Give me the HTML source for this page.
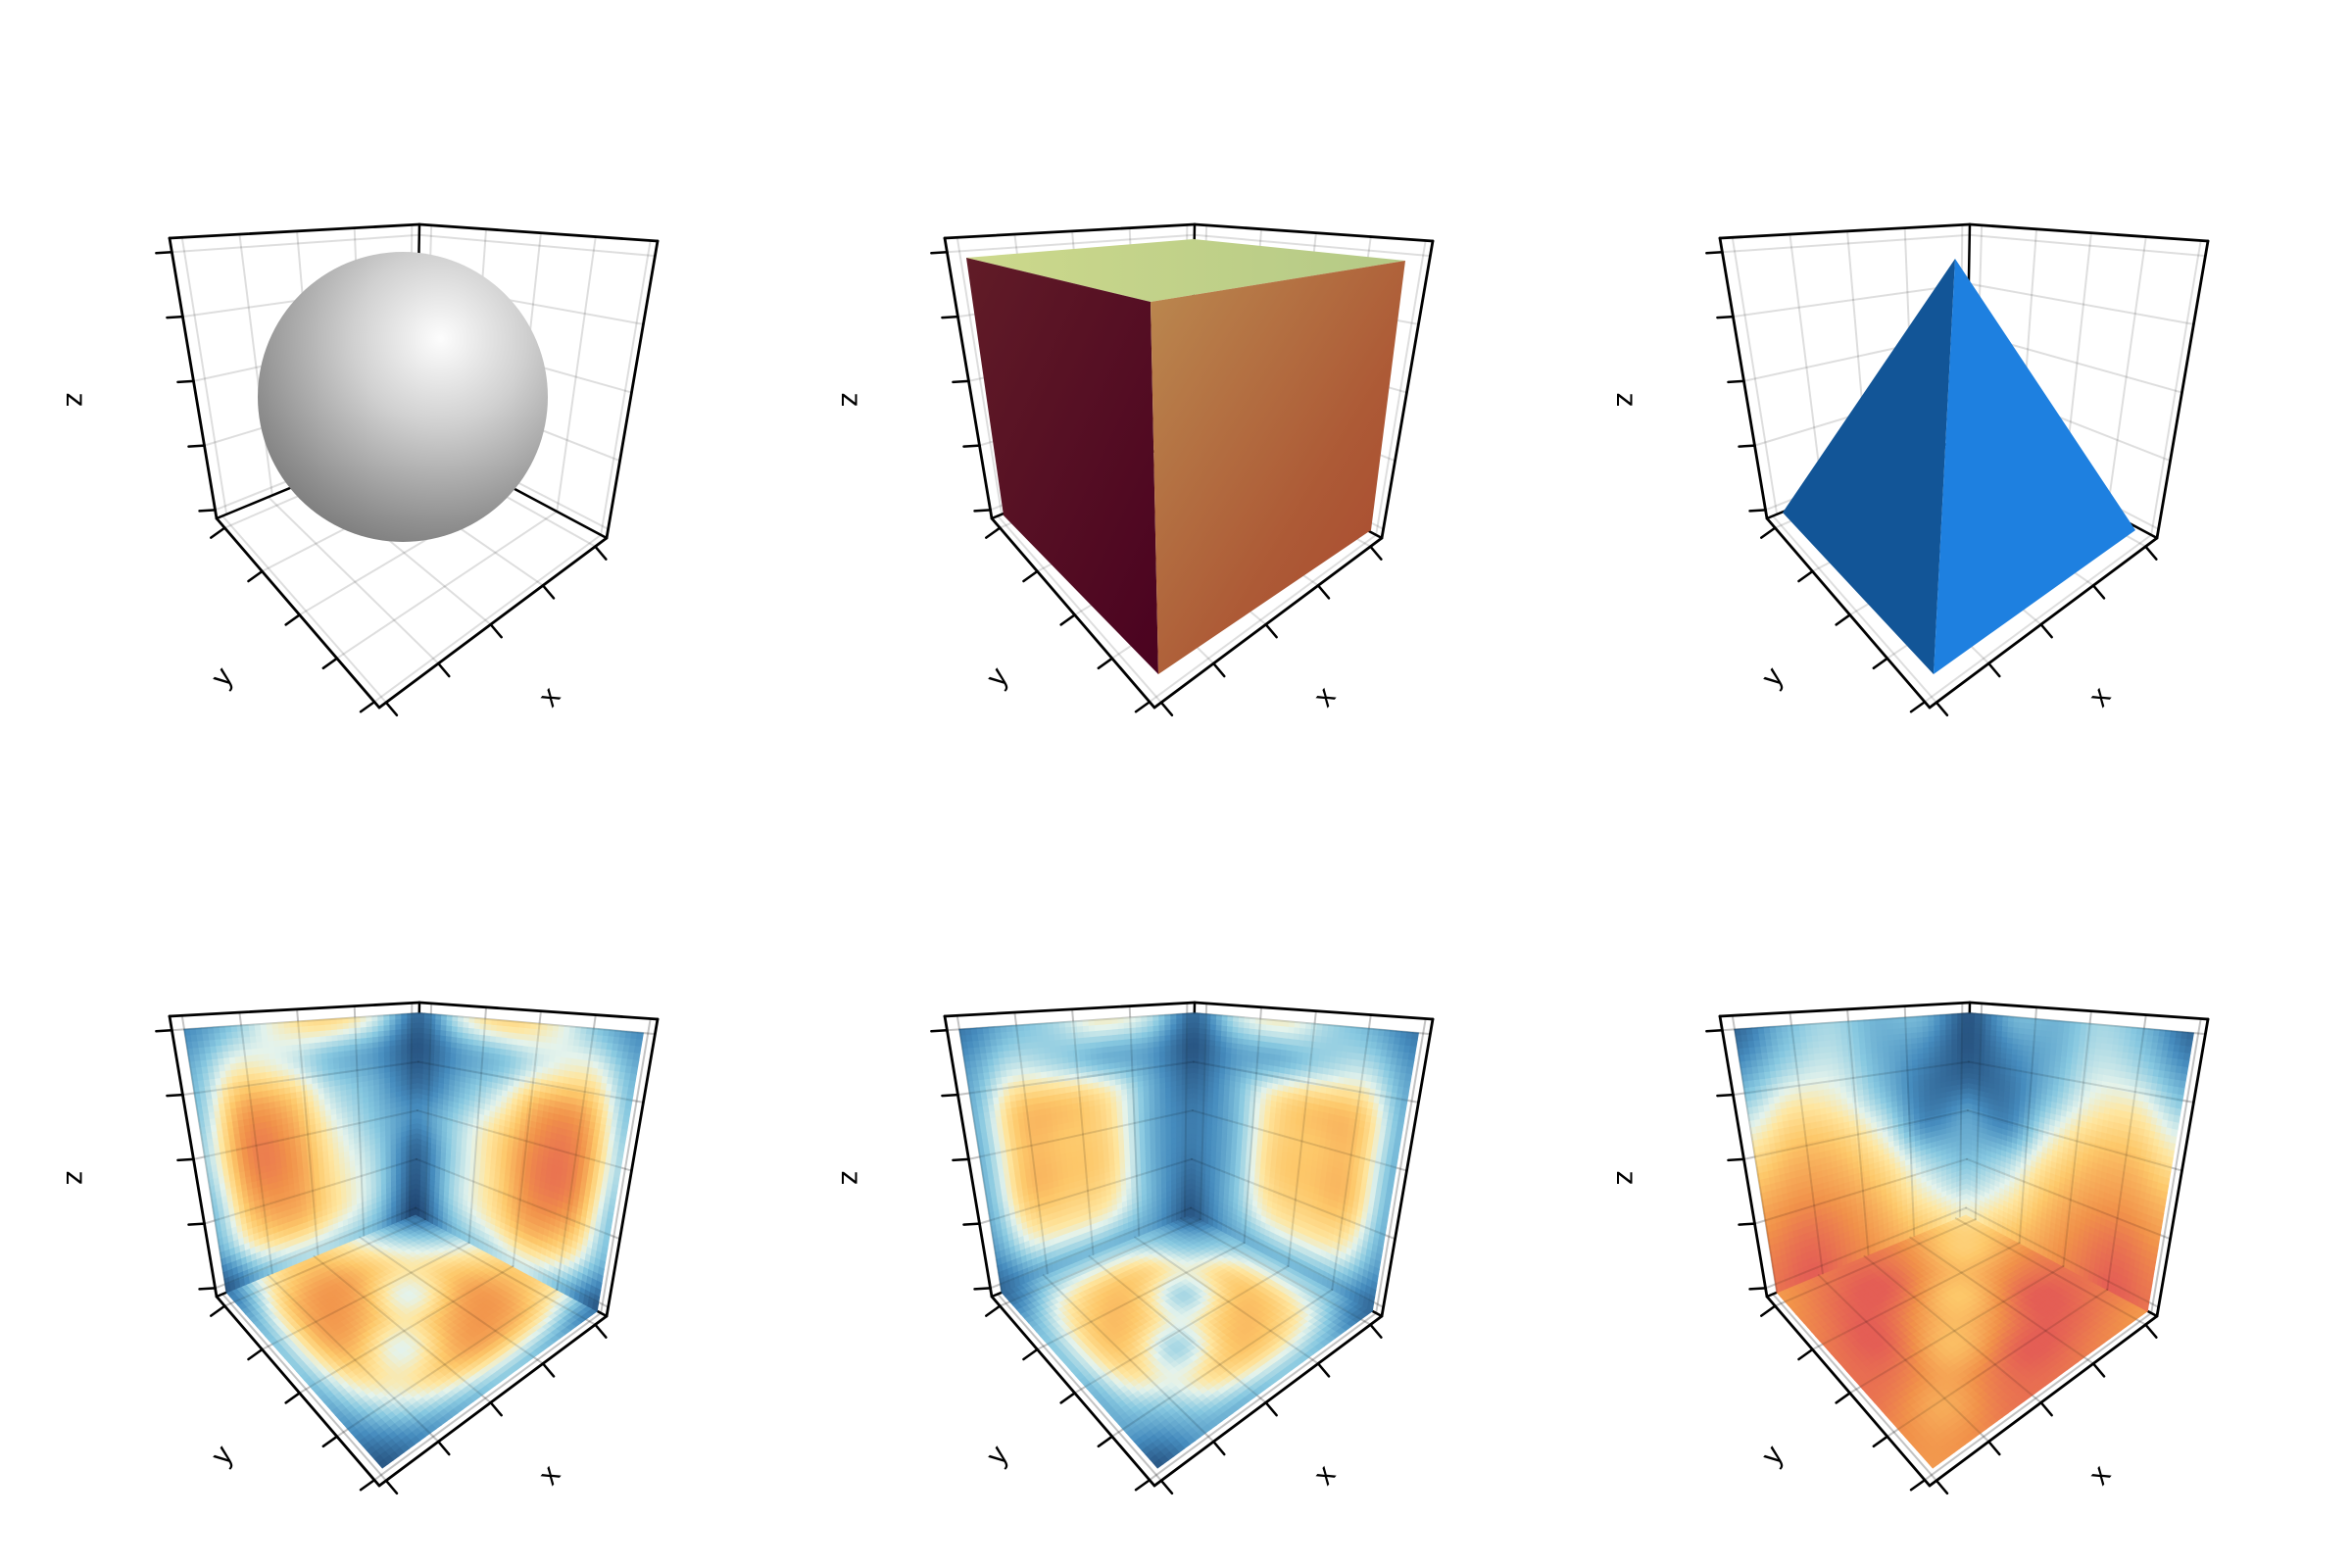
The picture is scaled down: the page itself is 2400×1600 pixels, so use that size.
<!DOCTYPE html>
<html><head><meta charset="utf-8">
<style>
html,body{margin:0;padding:0;background:#fff;}
svg{display:block;}
text{font-family:"Liberation Sans",sans-serif;font-size:30px;fill:#000;}
</style></head>
<body>
<svg id="fig" width="2400" height="1600" viewBox="0 0 2400 1600" xmlns="http://www.w3.org/2000/svg">
<defs>
<radialGradient id="sphereGrad" cx="0.62" cy="0.3" r="0.85" fx="0.63" fy="0.3">
<stop offset="0" stop-color="#fdfdfd"/><stop offset="0.35" stop-color="#d0d0d0"/><stop offset="0.75" stop-color="#909090"/><stop offset="1" stop-color="#6c6c6c"/>
</radialGradient>
<linearGradient id="cubeLeft" x1="0" y1="0" x2="1" y2="1"><stop offset="0" stop-color="#611c27"/><stop offset="1" stop-color="#4a0220"/></linearGradient>
<linearGradient id="cubeRight" x1="0" y1="0" x2="1" y2="1"><stop offset="0" stop-color="#bb8a50"/><stop offset="0.6" stop-color="#ad5a36"/><stop offset="1" stop-color="#a8452d"/></linearGradient>
<linearGradient id="cubeTop" x1="0" y1="0" x2="1" y2="0"><stop offset="0" stop-color="#cdd98c"/><stop offset="1" stop-color="#b4c986"/></linearGradient>
</defs>
</svg>
<script>
// ---- data: heatmap value grids (rows = top->bottom / back->front, cols) ----
const gridTicks = [0.05, 0.28, 0.51, 0.74, 0.97];
const p4Left = [[0.2,0.35,0.55,0.65,0.5,0.1],[0.3,0.55,0.5,0.35,0.25,0.05],[0.35,0.8,0.75,0.45,0.3,0.1],[0.4,0.88,0.85,0.55,0.35,0.2],[0.35,0.82,0.85,0.6,0.4,0.1],[0.3,0.65,0.75,0.6,0.4,0.05],[0.05,0.3,0.4,0.4,0.3,0.0]];
const p4Right = [[0.1,0.5,0.65,0.55,0.35,0.2],[0.05,0.25,0.35,0.5,0.55,0.3],[0.1,0.3,0.5,0.8,0.8,0.35],[0.2,0.4,0.65,0.9,0.88,0.4],[0.1,0.4,0.65,0.9,0.85,0.35],[0.05,0.4,0.6,0.78,0.65,0.3],[0.0,0.3,0.4,0.45,0.3,0.05]];
const p4Floor = [[0.1,0.35,0.6,0.7,0.55,0.15],[0.35,0.5,0.7,0.85,0.75,0.3],[0.6,0.7,0.5,0.75,0.8,0.35],[0.7,0.85,0.75,0.5,0.65,0.3],[0.55,0.75,0.8,0.65,0.45,0.2],[0.15,0.3,0.35,0.3,0.2,0.05]];
const p5Left = [[0.15,0.3,0.4,0.55,0.45,0.1],[0.25,0.45,0.4,0.3,0.25,0.05],[0.3,0.7,0.72,0.6,0.3,0.1],[0.3,0.72,0.72,0.65,0.3,0.15],[0.3,0.72,0.72,0.65,0.3,0.15],[0.25,0.55,0.6,0.55,0.3,0.1],[0.1,0.25,0.3,0.3,0.25,0.05]];
const p5Right = [[0.1,0.45,0.55,0.4,0.3,0.15],[0.05,0.25,0.3,0.4,0.45,0.25],[0.1,0.3,0.6,0.72,0.7,0.3],[0.15,0.3,0.65,0.72,0.72,0.3],[0.15,0.3,0.65,0.72,0.72,0.3],[0.1,0.3,0.55,0.6,0.55,0.25],[0.05,0.25,0.3,0.3,0.25,0.1]];
const p5Floor = [[0.05,0.3,0.35,0.35,0.3,0.1],[0.3,0.4,0.65,0.72,0.6,0.3],[0.35,0.65,0.4,0.68,0.72,0.35],[0.35,0.72,0.68,0.4,0.62,0.3],[0.3,0.6,0.72,0.62,0.38,0.25],[0.1,0.3,0.35,0.3,0.25,0.05]];
const p6Left = [[0.1,0.3,0.4,0.3,0.3,0.05],[0.25,0.4,0.45,0.3,0.2,0.05],[0.45,0.6,0.55,0.35,0.15,0.1],[0.65,0.75,0.7,0.5,0.2,0.25],[0.8,0.85,0.8,0.65,0.4,0.3],[0.9,0.95,0.88,0.75,0.55,0.4],[0.95,1.0,0.92,0.82,0.7,0.55]];
const p6Right = [[0.05,0.3,0.3,0.4,0.3,0.1],[0.05,0.2,0.3,0.45,0.4,0.25],[0.1,0.15,0.35,0.55,0.6,0.45],[0.25,0.2,0.5,0.7,0.75,0.65],[0.3,0.4,0.65,0.8,0.85,0.8],[0.4,0.55,0.75,0.88,0.95,0.9],[0.55,0.7,0.82,0.92,1.0,0.95]];
const p6Floor = [[0.6,0.75,0.9,0.95,0.92,0.85],[0.75,0.7,0.85,1.0,0.98,0.9],[0.9,0.85,0.72,0.85,1.0,0.95],[0.95,1.0,0.85,0.75,0.9,0.95],[0.92,0.98,1.0,0.9,0.8,0.88],[0.85,0.9,0.95,0.95,0.88,0.85]];

const NS='http://www.w3.org/2000/svg';
const svg=document.getElementById('fig');
const box={LT:[173,243],BT:[428,229],RT:[671,246],LB:[221,529],RB:[619,549],FB:[387,722],BB:[424,445]};
const colX=[0,791,1582], rowY=[0,794];
const cmapPos=[0,0.2,0.35,0.5,0.6,0.72,0.87,1];
const cmapCol=[[30,66,110],[70,140,190],[135,200,224],[228,243,236],[254,230,160],[253,200,106],[241,146,74],[228,94,85]];
function cmap(v){v=Math.max(0,Math.min(1,v));for(let i=1;i<cmapPos.length;i++){if(v<=cmapPos[i]){const f=(v-cmapPos[i-1])/(cmapPos[i]-cmapPos[i-1]);const a=cmapCol[i-1],b=cmapCol[i];return 'rgb('+a.map((c,k)=>Math.round(c+(b[k]-c)*f)).join(',')+')';}}return 'rgb(228,94,85)';}
function bil(A,B,C,D,s,t){return [(1-s)*(1-t)*A[0]+s*(1-t)*B[0]+s*t*C[0]+(1-s)*t*D[0],(1-s)*(1-t)*A[1]+s*(1-t)*B[1]+s*t*C[1]+(1-s)*t*D[1]];}
function cr(p0,p1,p2,p3,f){return 0.5*((2*p1)+(-p0+p2)*f+(2*p0-5*p1+4*p2-p3)*f*f+(-p0+3*p1-3*p2+p3)*f*f*f);}
function sample(g,s,t){const R=g.length-1,C=g[0].length-1;const y=t*R,x=s*C;const i=Math.min(R-1,Math.floor(y)),j=Math.min(C-1,Math.floor(x));const fy=y-i,fx=x-j;
 const G=(a,b)=>g[Math.max(0,Math.min(R,a))][Math.max(0,Math.min(C,b))];
 const rows=[];for(let k=-1;k<=2;k++)rows.push(cr(G(i+k,j-1),G(i+k,j),G(i+k,j+1),G(i+k,j+2),fx));
 return cr(rows[0],rows[1],rows[2],rows[3],fy);}
function el(tag,attrs,parent){const e=document.createElementNS(NS,tag);for(const k in attrs)e.setAttribute(k,attrs[k]);(parent||svg).appendChild(e);return e;}
function pts(a){return a.map(p=>p[0].toFixed(1)+','+p[1].toFixed(1)).join(' ');}
function line(g,a,b,stroke,w,op){return el('line',{x1:a[0],y1:a[1],x2:b[0],y2:b[1],stroke:stroke,'stroke-width':w,'stroke-opacity':op||1,'stroke-linecap':'round'},g);}
function faces(o){const P=k=>[box[k][0]+o[0],box[k][1]+o[1]];return {left:[P('LT'),P('BT'),P('BB'),P('LB')],right:[P('BT'),P('RT'),P('RB'),P('BB')],floor:[P('BB'),P('RB'),P('FB'),P('LB')],P:P,o:o};}
function drawGrid(g,F,stroke,op){
  for(const q of [F.left,F.right,F.floor]){
    for(const t of gridTicks){line(g,bil(...q,0,t),bil(...q,1,t),stroke,2,op);line(g,bil(...q,t,0),bil(...q,t,1),stroke,2,op);}
  }
}
function drawFrameBack(g,F){const P=F.P;line(g,P('BT'),P('BB'),'#000',2.5);line(g,P('LB'),P('BB'),'#000',2.5);line(g,P('BB'),P('RB'),'#000',2.5);}
function drawFrameFront(g,F){
  const P=F.P;
  for(const e of [['LT','BT'],['BT','RT'],['LT','LB'],['RT','RB'],['LB','FB'],['FB','RB']])line(g,P(e[0]),P(e[1]),'#000',2.8);
  const L=F.left,Fl=F.floor;
  for(const t of gridTicks){
    const a=bil(...L,0,t);line(g,a,[a[0]-16,a[1]+1],'#000',2.5);
    const b=bil(...Fl,t,1);line(g,b,[b[0]-14,b[1]+10],'#000',2.5);
    const c=bil(...Fl,1,t);line(g,c,[c[0]+11,c[1]+13],'#000',2.5);
  }
  const ox=F.o[0],oy=F.o[1];
  const tz=el('text',{x:0,y:0,transform:'translate('+(ox+76)+','+(oy+408)+') rotate(90)','text-anchor':'middle','dominant-baseline':'middle'},g);tz.textContent='z';
  
  
  const ty=el('text',{x:0,y:0,transform:'translate('+(ox+228)+','+(oy+692)+') rotate(-52)','text-anchor':'middle','dominant-baseline':'middle'},g);ty.textContent='y';
  
  
  const tx=el('text',{x:0,y:0,transform:'translate('+(ox+562)+','+(oy+712)+') rotate(-50)','text-anchor':'middle','dominant-baseline':'middle'},g);tx.textContent='x';
  
  
}
function heatFace(g,q,grid,s0,s1,t0,t1,name){
  const fg=el('g',{},g);
  
  
  const N=40;
  for(let i=0;i<N;i++)for(let j=0;j<N;j++){
    const sa=s0+(s1-s0)*j/N,sb=s0+(s1-s0)*(j+1)/N,ta=t0+(t1-t0)*i/N,tb=t0+(t1-t0)*(i+1)/N;
    const v=sample(grid,(j+0.5)/N,(i+0.5)/N);const c=cmap(v);
    el('polygon',{points:pts([bil(...q,sa,ta),bil(...q,sb,ta),bil(...q,sb,tb),bil(...q,sa,tb)]),fill:c,stroke:c,'stroke-width':1},fg);
  }
}
function panel(r,c,name){const g=el('g',{});return [g,faces([colX[c],rowY[r]])];}

// Panel 1: sphere
{const [g,F]=panel(0,0,'sphere-panel');drawGrid(g,F,'#000',0.13);drawFrameBack(g,F);
 const s=el('ellipse',{cx:411,cy:405,rx:148,ry:148,fill:'url(#sphereGrad)'},g);
 
 
 drawFrameFront(g,F);}
// Panel 2: cube
{const [g,F]=panel(0,1,'cube-panel');drawGrid(g,F,'#000',0.13);drawFrameBack(g,F);const ox=colX[1];
 const T=[[195,263],[427,244],[643,266],[383,308]].map(p=>[p[0]+ox,p[1]]);
 const Lf=[[195,263],[383,308],[391,688],[233,526]].map(p=>[p[0]+ox,p[1]]);
 const Rf=[[383,308],[643,266],[608,541],[391,688]].map(p=>[p[0]+ox,p[1]]);
 const a=el('polygon',{points:pts(T),fill:'url(#cubeTop)'},g);
 const b=el('polygon',{points:pts(Lf),fill:'url(#cubeLeft)'},g);
 const d=el('polygon',{points:pts(Rf),fill:'url(#cubeRight)'},g);
 drawFrameFront(g,F);}
// Panel 3: pyramid
{const [g,F]=panel(0,2,'pyramid-panel');drawGrid(g,F,'#000',0.13);drawFrameBack(g,F);const ox=colX[2];
 const apex=[413+ox,264],lb=[237+ox,523],fb=[391+ox,688],rb=[597+ox,541];
 const a=el('polygon',{points:pts([apex,lb,fb]),fill:'#125597'},g);
 const b=el('polygon',{points:pts([apex,fb,rb]),fill:'#1e80e0'},g);
 drawFrameFront(g,F);}
// Row 2 heatmap panels
const heat=[[p4Left,p4Right,p4Floor],[p5Left,p5Right,p5Floor],[p6Left,p6Right,p6Floor]];
for(let c=0;c<3;c++){const [g,F]=panel(1,c,'volume-slice-panel-'+(c+1));drawGrid(g,F,'#000',0.13);drawFrameBack(g,F);
 heatFace(g,F.floor,heat[c][2],0,0.95,0,0.95,'floor-heatmap');
 heatFace(g,F.left,heat[c][0],0.05,1,0.05,1,'left-wall-heatmap');
 heatFace(g,F.right,heat[c][1],0,0.95,0.05,1,'right-wall-heatmap');
 drawGrid(g,F,'#000',0.12);
 drawFrameFront(g,F);}
</script>
</body></html>
